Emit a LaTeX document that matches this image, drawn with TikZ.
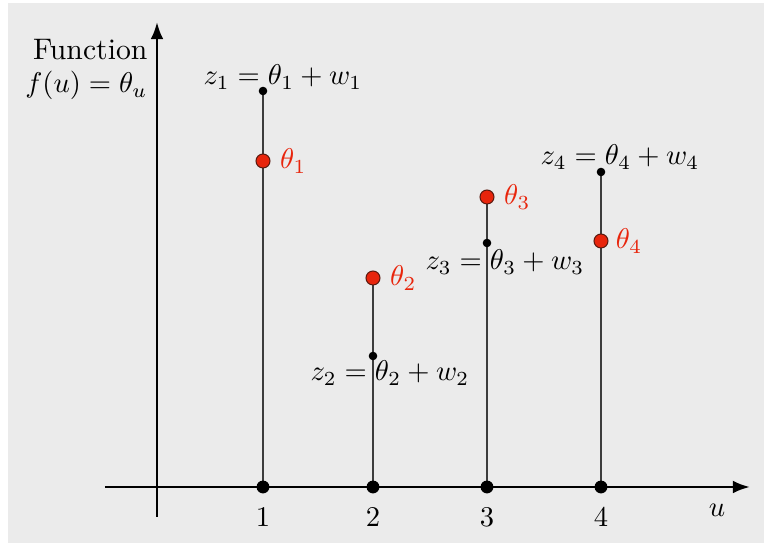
\documentclass[tikz,border=0pt]{standalone}
\usepackage{amsmath,amssymb}
\usepackage{xcolor}
\usepackage{tikz}
\usetikzlibrary{arrows.meta,positioning,backgrounds}
\definecolor{panel}{HTML}{EBEBEB}
\definecolor{thetared}{HTML}{E8250C}
\definecolor{thetaedge}{HTML}{5A1A10}
\definecolor{stem}{HTML}{3C3C3C}
\tikzset{
  >={Latex[length=6pt,width=4.5pt]},
  axis/.style={->,line width=.95pt},
  stemline/.style={draw=stem,line width=.45pt},
  basedot/.style={circle,fill=black,inner sep=0pt,minimum size=4.5pt},
  obsdot/.style={circle,fill=black,inner sep=0pt,minimum size=3pt},
  truedot/.style={circle,fill=thetared,draw=thetaedge,line width=.35pt,inner sep=0pt,minimum size=4.9pt},
  truelabel/.style={text=thetared,inner sep=1pt},
  obslabel/.style={inner sep=1pt},
  ticklabel/.style={inner sep=1pt},
}

\begin{document}
\begin{tikzpicture}[x=.35pt,y=-.35pt]
  \useasboundingbox (0,0) rectangle (764,543);

  % axes
  \coordinate (ybot) at (157,517);
  \coordinate (ytop) at (157,22);
  \coordinate (xlft) at (105,487);
  \coordinate (xrgt) at (750,487);
  \draw[axis] (ybot)--(ytop);
  \draw[axis] (xlft)--(xrgt);
  \node[anchor=base east,inner sep=0pt,scale=1.04] (fn) at (148,60) {Function};
  \node[anchor=base east,inner sep=0pt] (fu) at (148,93) {$f(u)=\theta_u$};
  \node[ticklabel] (lu) at (717,510) {$u$};

  % points on the axis
  \node[basedot] (b1) at (263,487) {};
  \node[basedot] (b2) at (373,487) {};
  \node[basedot] (b3) at (487,487) {};
  \node[basedot] (b4) at (601,487) {};
  \node[ticklabel] (n1) at (263,517) {$1$};
  \node[ticklabel] (n2) at (373,517) {$2$};
  \node[ticklabel] (n3) at (487,517) {$3$};
  \node[ticklabel] (n4) at (601,517) {$4$};

  % observations and true values
  \node[obsdot] (z1) at (263,91) {};
  \node[truedot] (t1) at (263,161) {};
  \node[truedot] (t2) at (373,278) {};
  \node[obsdot] (z2) at (373,356) {};
  \node[truedot] (t3) at (487,197) {};
  \node[obsdot] (z3) at (487,243) {};
  \node[obsdot] (z4) at (601,172) {};
  \node[truedot] (t4) at (601,241) {};

  \node[truelabel,right=2.2pt of t1] (lt1) {$\theta_1$};
  \node[truelabel,right=2.2pt of t2] (lt2) {$\theta_2$};
  \node[truelabel,right=2.2pt of t3] (lt3) {$\theta_3$};
  \node[truelabel,right=1.4pt of t4] (lt4) {$\theta_4$};
  \node[obslabel] (lz1) at (283,77) {$z_1=\theta_1+w_1$};
  \node[obslabel] (lz2) at (390,373) {$z_2=\theta_2+w_2$};
  \node[obslabel] (lz3) at (505,262) {$z_3=\theta_3+w_3$};
  \node[obslabel] (lz4) at (620,157) {$z_4=\theta_4+w_4$};

  \begin{scope}[on background layer]
    \fill[panel] (8,3) rectangle (764,543);
    \draw[stemline] (b1.center)--(z1.center);
    \draw[stemline] (b2.center)--(t2.center);
    \draw[stemline] (b3.center)--(t3.center);
    \draw[stemline] (b4.center)--(z4.center);
  \end{scope}
\end{tikzpicture}
\end{document}
